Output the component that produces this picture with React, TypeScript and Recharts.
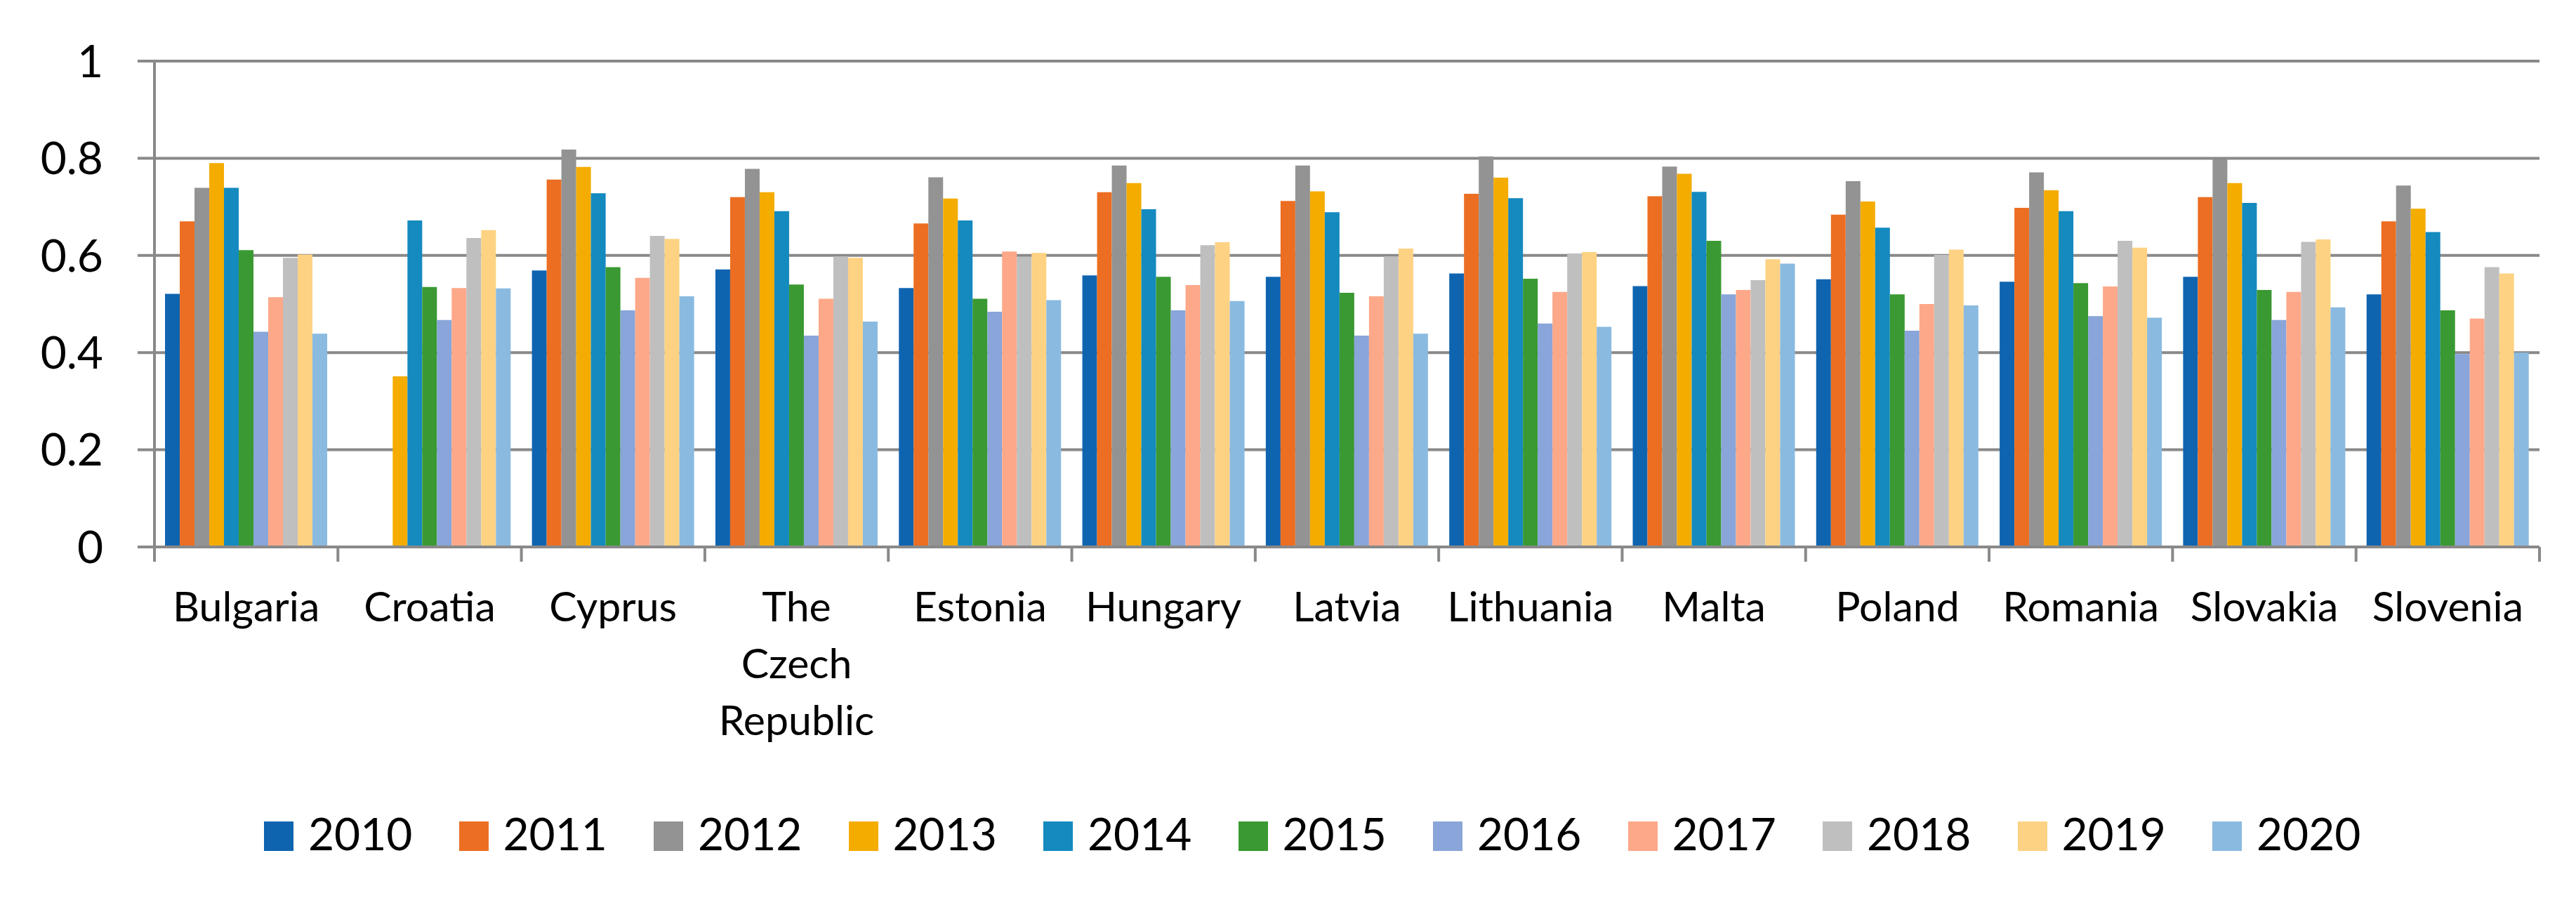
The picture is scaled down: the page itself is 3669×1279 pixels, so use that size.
import React from 'react';
import { BarChart, Bar, XAxis, YAxis, CartesianGrid, Legend } from 'recharts';

const W = 3669;
const H = 1279;
const FONT = 'Lato, "Noto Sans", sans-serif';
const GRID = '#898989';
const MARGIN = { top: 87, right: 52, left: 0, bottom: 58 };
const Y_AXIS_W = 220;
const X_TICK_MARGIN = 64;

const categories = [
  'Bulgaria', 'Croatia', 'Cyprus', 'The Czech Republic', 'Estonia', 'Hungary', 'Latvia',
  'Lithuania', 'Malta', 'Poland', 'Romania', 'Slovakia', 'Slovenia',
];
const years = ['2010', '2011', '2012', '2013', '2014', '2015', '2016', '2017', '2018', '2019', '2020'];
const colors = [
  '#0F64B0', '#EC6E22', '#939393', '#F4AC00', '#148ABF', '#3A9932',
  '#89A5D9', '#FDA889', '#BFBFBF', '#FED283', '#8ABAE0',
];
const yTicks = [0, 0.2, 0.4, 0.6, 0.8, 1];

const v2010 = [0.521, null, 0.569, 0.571, 0.533, 0.559, 0.556, 0.563, 0.537, 0.551, 0.546, 0.556, 0.520];
const v2011 = [0.670, null, 0.756, 0.720, 0.666, 0.730, 0.712, 0.727, 0.722, 0.684, 0.698, 0.720, 0.670];
const v2012 = [0.739, null, 0.818, 0.778, 0.761, 0.785, 0.785, 0.804, 0.783, 0.753, 0.771, 0.798, 0.744];
const v2013 = [0.790, 0.351, 0.782, 0.730, 0.717, 0.749, 0.732, 0.760, 0.768, 0.711, 0.734, 0.749, 0.696];
const v2014 = [0.739, 0.672, 0.728, 0.691, 0.672, 0.695, 0.689, 0.718, 0.731, 0.657, 0.691, 0.708, 0.648];
const v2015 = [0.611, 0.535, 0.576, 0.540, 0.511, 0.556, 0.523, 0.552, 0.630, 0.520, 0.543, 0.529, 0.487];
const v2016 = [0.443, 0.467, 0.487, 0.435, 0.484, 0.487, 0.435, 0.460, 0.520, 0.445, 0.475, 0.467, 0.397];
const v2017 = [0.514, 0.533, 0.554, 0.511, 0.608, 0.539, 0.516, 0.525, 0.529, 0.500, 0.536, 0.525, 0.470];
const v2018 = [0.595, 0.636, 0.640, 0.598, 0.597, 0.621, 0.598, 0.604, 0.549, 0.601, 0.630, 0.628, 0.576];
const v2019 = [0.602, 0.652, 0.634, 0.595, 0.605, 0.627, 0.614, 0.607, 0.592, 0.612, 0.616, 0.633, 0.563];
const v2020 = [0.439, 0.532, 0.516, 0.464, 0.508, 0.506, 0.439, 0.453, 0.583, 0.497, 0.472, 0.493, 0.400];

const series = [v2010, v2011, v2012, v2013, v2014, v2015, v2016, v2017, v2018, v2019, v2020];

const data = categories.map((c, i) => {
  const row: any = { country: c };
  years.forEach((y, k) => {
    row['y' + y] = series[k][i];
  });
  return row;
});

// width of one category band, derived from the chart layout
const BAND = (W - MARGIN.left - MARGIN.right - Y_AXIS_W) / categories.length;

const CategoryTick = (props: any) => {
  const { x, y, payload, index } = props;
  const label = String(payload.value);
  const words = label.split(' ');
  const lines = words.length > 1 ? words : [label];
  const axisY = y - X_TICK_MARGIN;
  const isLast = index === categories.length - 1;
  return (
    <g>
      <line x1={x - BAND / 2} x2={x - BAND / 2} y1={axisY} y2={axisY + 21} stroke={GRID} strokeWidth={4} />
      {isLast && (
        <line x1={x + BAND / 2} x2={x + BAND / 2} y1={axisY} y2={axisY + 21} stroke={GRID} strokeWidth={4} />
      )}
      <text x={x} y={y} textAnchor="middle" fontSize={59} fontFamily={FONT} fill="#000">
        {lines.map((l, i) => (
          <tspan key={i} x={x} dy={i === 0 ? 42 : 81}>
            {l}
          </tspan>
        ))}
      </text>
    </g>
  );
};

const LegendContent = () => (
  <div
    style={{
      display: 'flex',
      height: 60,
      alignItems: 'center',
      paddingLeft: 376,
      width: W,
      boxSizing: 'border-box',
    }}
  >
    {years.map((yr, i) => (
      <div key={yr} style={{ width: 277.5, flex: 'none', display: 'flex', alignItems: 'center' }}>
        <div style={{ width: 42, height: 42, background: colors[i], marginRight: 21, flex: 'none' }} />
        <span
          style={{
            fontSize: 64,
            fontFamily: FONT,
            lineHeight: '60px',
            color: '#000',
            position: 'relative',
            top: -4,
          }}
        >
          {yr}
        </span>
      </div>
    ))}
  </div>
);

export default function App() {
  return (
    <div style={{ position: 'absolute', left: 0, top: 0, width: W, height: H, background: '#fff' }}>
      <BarChart
        width={W}
        height={H}
        data={data}
        margin={MARGIN}
        barCategoryGap="5.75%"
        barGap={0}
      >
        <CartesianGrid vertical={false} stroke={GRID} strokeWidth={4} />
        <XAxis
          dataKey="country"
          interval={0}
          tickLine={false}
          tickSize={0}
          tickMargin={X_TICK_MARGIN}
          height={382}
          axisLine={{ stroke: GRID, strokeWidth: 4 }}
          tick={<CategoryTick />}
        />
        <YAxis
          domain={[0, 1]}
          ticks={yTicks}
          width={Y_AXIS_W}
          tickSize={24}
          tickMargin={49}
          axisLine={{ stroke: GRID, strokeWidth: 4 }}
          tickLine={{ stroke: GRID, strokeWidth: 4 }}
          tick={{ fontSize: 64, fill: '#000', fontFamily: FONT }}
        />
        <Legend
          verticalAlign="bottom"
          content={<LegendContent />}
          wrapperStyle={{ left: 0, width: W, bottom: 58 }}
        />
        {years.map((y, k) => (
          <Bar key={y} dataKey={'y' + y} name={y} fill={colors[k]} isAnimationActive={false} />
        ))}
      </BarChart>
    </div>
  );
}
